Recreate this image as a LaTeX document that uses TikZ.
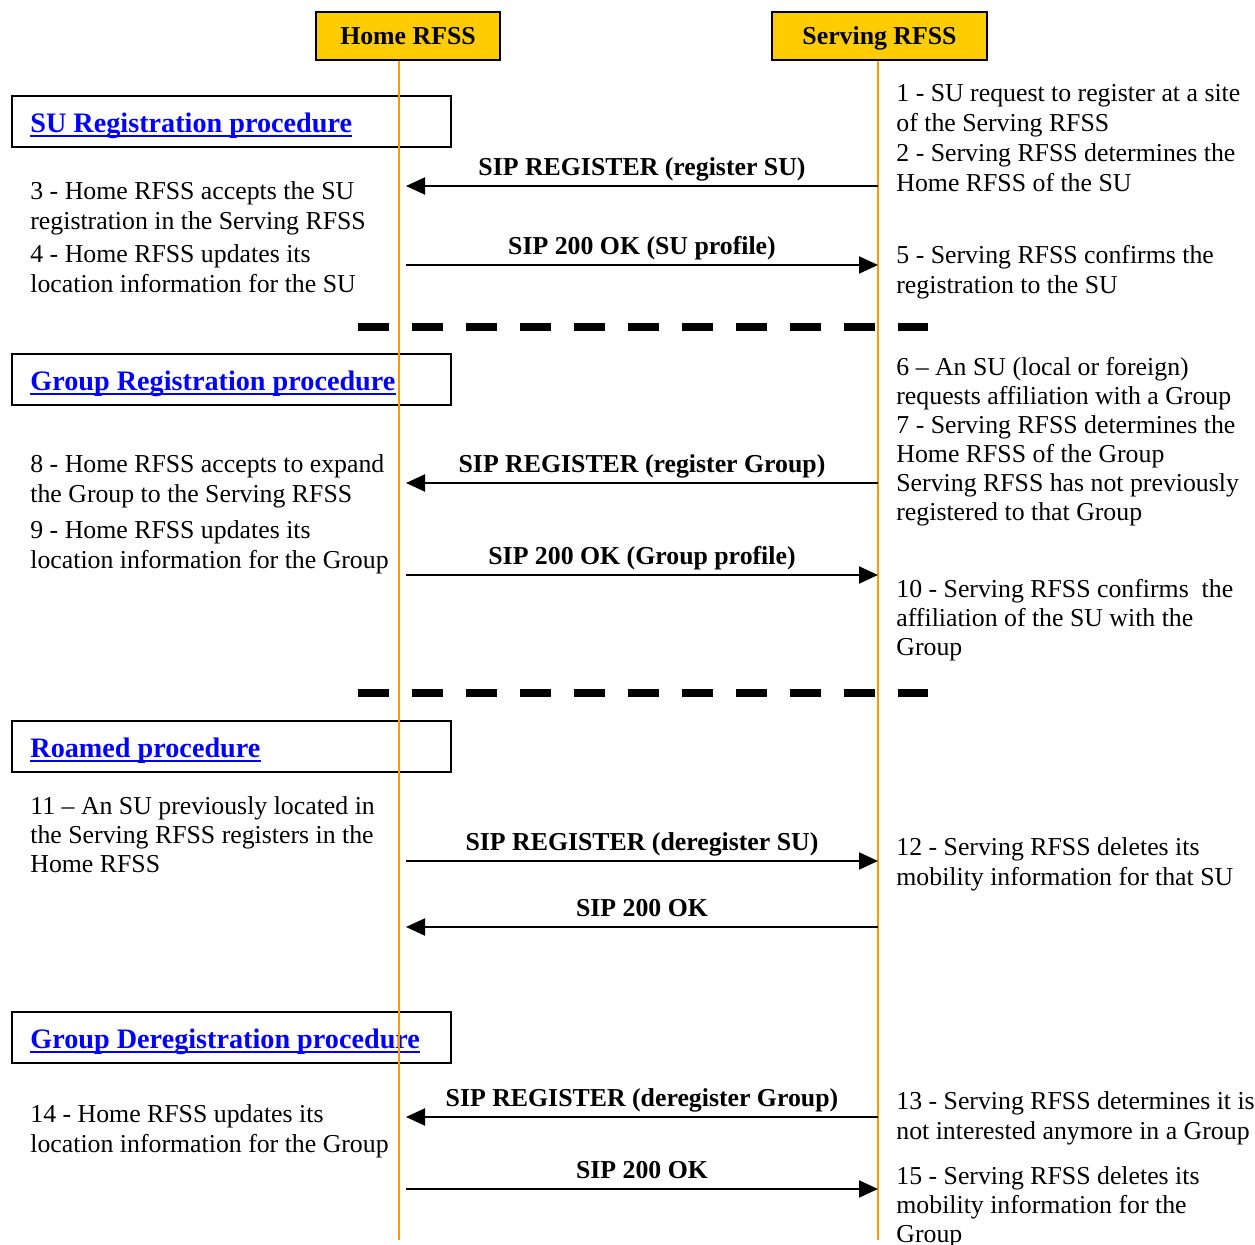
\documentclass[tikz,border=0pt]{standalone}
\usepackage{fontspec}
\setmainfont{Liberation Serif}
\usetikzlibrary{arrows.meta,calc}
\definecolor{rfssfill}{RGB}{255,204,0}
\definecolor{lifeorange}{RGB}{255,153,0}
\definecolor{procblue}{RGB}{0,0,255}
\tikzset{
    >={Triangle[length=9.5pt,width=8.5pt]},
    rfss/.style={draw=black,line width=1pt,fill=rfssfill,minimum height=24pt,inner sep=0pt,
        text height=8.6pt,text depth=0pt,font=\fontsize{12.9}{15}\selectfont\bfseries},
    lifeline/.style={draw=lifeorange,line width=1pt},
    procbox/.style={draw=black,line width=1pt,minimum width=219.5pt,minimum height=25.5pt,inner sep=0pt},
    proctitle/.style={anchor=base west,inner sep=0pt,text=procblue,
        font=\fontsize{14.1}{16}\selectfont\bfseries},
    note/.style={anchor=north west,inner sep=0pt,align=left,font=\fontsize{12.9}{15}\selectfont},
    tight/.style={font=\fontsize{12.9}{14.5}\selectfont},
    msg/.style={line width=1pt},
    msglabel/.style={anchor=base,inner sep=0pt,font=\fontsize{12.9}{15}\selectfont\bfseries},
    sepline/.style={line width=4pt,dash pattern=on 15.5pt off 11.5pt},
    toH/.style={<-},
    toS/.style={->},
}

\begin{document}
\begin{tikzpicture}[x=0.5pt,y=-0.5pt]
    \useasboundingbox (0,0) rectangle (1255,1245);

    \node[rfss,minimum width=92pt] (home) at (408,36) {Home RFSS};
    \node[rfss,minimum width=107.5pt] (serving) at (879.5,36) {Serving RFSS};

    \foreach \i/\y/\txt in {1/121.5/SU Registration procedure,
                            2/379.5/Group Registration procedure,
                            3/746.5/Roamed procedure,
                            4/1037.5/Group Deregistration procedure}{
        \node[procbox] (proc\i) at (231.5,\y) {};
        \node[proctitle] (title\i) at ([xshift=9.5pt,yshift=-5.5pt]proc\i.west) {\txt};
        \draw[procblue,line width=1pt] ([yshift=-2pt]title\i.base west) -- ([yshift=-2pt]title\i.base east);
    }

    \draw[sepline] (358,327) -- (928,327);
    \draw[sepline] (358,693) -- (928,693);

    \coordinate (hEnd) at (399,1240);
    \coordinate (sEnd) at (878,1240);
    \draw[lifeline] (home.south -| hEnd) -- (hEnd);
    \draw[lifeline] (serving.south -| sEnd) -- (sEnd);

    \foreach \i/\y/\dir/\txt in {1/186/toH/SIP REGISTER (register SU),
                                 2/265/toS/SIP 200 OK (SU profile),
                                 3/483/toH/SIP REGISTER (register Group),
                                 4/575/toS/SIP 200 OK (Group profile),
                                 5/861/toS/SIP REGISTER (deregister SU),
                                 6/927/toH/SIP 200 OK,
                                 7/1117/toH/SIP REGISTER (deregister Group),
                                 8/1189/toS/SIP 200 OK}{
        \coordinate (h\i) at (406,\y);
        \coordinate (s\i) at (878,\y);
        \draw[msg,\dir] (h\i) -- (s\i) node[msglabel,pos=0.5,yshift=5pt] (m\i) {\txt};
    }

    \node[note] (n3) at (30,181) {3 - Home RFSS accepts the SU\\registration in the Serving RFSS};
    \node[note] (n4) at (30,244) {4 - Home RFSS updates its\\location information for the SU};
    \node[note] (n8) at (30,454) {8 - Home RFSS accepts to expand\\the Group to the Serving RFSS};
    \node[note] (n9) at (30,520) {9 - Home RFSS updates its\\location information for the Group};
    \node[note,tight] (n11) at (30,796) {11 -- An SU previously located in\\the Serving RFSS registers in the\\Home RFSS};
    \node[note] (n14) at (30,1104) {14 - Home RFSS updates its\\location information for the Group};

    \node[note] (n1) at (896,84) {1 - SU request to register at a site\\of the Serving RFSS\\2 - Serving RFSS determines the\\Home RFSS of the SU};
    \node[note] (n5) at (896,245) {5 - Serving RFSS confirms the\\registration to the SU};
    \node[note,tight] (n6) at (896,357) {6 -- An SU (local or foreign)\\requests affiliation with a Group\\7 - Serving RFSS determines the\\Home RFSS of the Group\\Serving RFSS has not previously\\registered to that Group};
    \node[note,tight] (n10) at (896,579) {10 - Serving RFSS confirms\ \ the\\affiliation of the SU with the\\Group};
    \node[note] (n12) at (896,837) {12 - Serving RFSS deletes its\\mobility information for that SU};
    \node[note] (n13) at (896,1091) {13 - Serving RFSS determines it is\\not interested anymore in a Group};
    \node[note,tight] (n15) at (896,1166) {15 - Serving RFSS deletes its\\mobility information for the\\Group};
\end{tikzpicture}
\end{document}
